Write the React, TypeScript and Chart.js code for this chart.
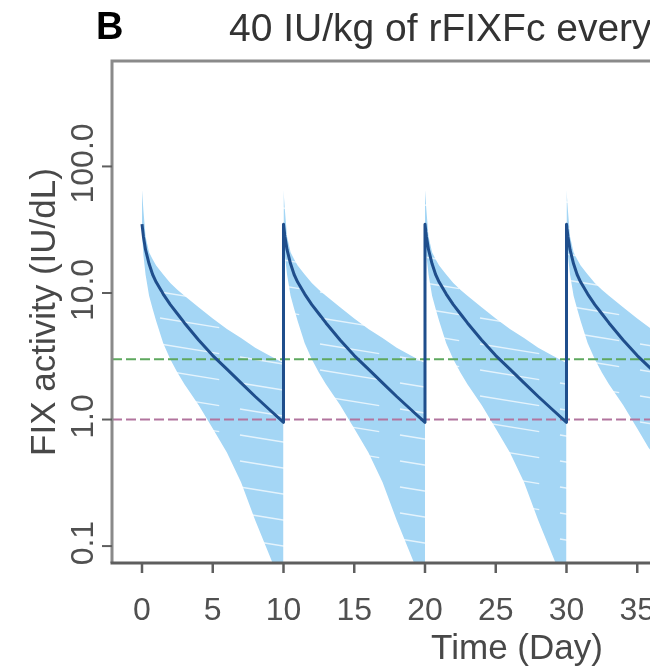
import React, { useEffect, useRef } from "react";
import { Chart, registerables } from "chart.js";

Chart.register(...registerables);

// ---- data ----
const doseDays = [0, 10, 20, 30, 40];
const cycleDays = [0, 0.1, 0.25, 0.5, 0.75, 1, 1.5, 2, 2.5, 3, 4, 5, 6, 7, 8, 9, 10];
const medianFIX = [35, 28, 22, 17, 14, 12.2, 9.8, 8.1, 6.85, 5.8, 4.25, 3.2, 2.5, 1.95, 1.52, 1.2, 0.95];
const upperFIX = [65, 45, 28, 21, 18.5, 16.5, 14, 12, 10.6, 9.5, 7.7, 6.3, 5.2, 4.4, 3.7, 3.2, 2.8];
const lowerFIX = [30, 20, 14, 9.5, 7.5, 6, 4, 3, 2.35, 1.9, 1.3, 0.85, 0.55, 0.32, 0.16, 0.085, 0.045];

const thresholdValues = [1, 3];
const thresholdColors = ["#b2749e", "#5ea85e"];

const xTicks = [0, 5, 10, 15, 20, 25, 30, 35, 40, 45, 50];
const yTicks = [0.1, 1, 10, 100];
const yTickLabels = ["0.1", "1.0", "10.0", "100.0"];

const X_MIN = -2.12;
const X_MAX = 54.7;
const Y_MIN = 0.0735;
const Y_MAX = 681;

const panelLetter = "B";
const titleText = "40 IU/kg of rFIXFc every 10 days";
const xTitle = "Time (Day)";
const yTitle = "FIX activity (IU/dL)";

const FONT = "'Liberation Sans', Arial, Helvetica, sans-serif";

function makeBandPattern(ctx: CanvasRenderingContext2D) {
  const c = document.createElement("canvas");
  c.width = 160;
  c.height = 26;
  const g = c.getContext("2d")!;
  g.fillStyle = "#a4d6f5";
  g.fillRect(0, 0, 160, 26);
  g.strokeStyle = "rgba(255,255,255,0.7)";
  g.lineWidth = 1.5;
  g.setLineDash([60, 21]);
  for (const off of [-26, 0, 26]) {
    g.beginPath();
    g.moveTo(0, 6 + off);
    g.lineTo(160, 6 + off + 26);
    g.stroke();
  }
  return ctx.createPattern(c, "repeat");
}

const decorPlugin = {
  id: "decor",
  afterDraw(chart: any) {
    const { ctx, chartArea, scales } = chart;
    const { left, right, top, bottom } = chartArea;
    const xs = scales.x;
    const ys = scales.y;
    ctx.save();

    // box
    ctx.strokeStyle = "#8a8a8a";
    ctx.lineWidth = 3;
    ctx.beginPath();
    ctx.moveTo(right, top);
    ctx.lineTo(left, top);
    ctx.lineTo(left, bottom);
    ctx.stroke();
    ctx.strokeStyle = "#5e5e5e";
    ctx.beginPath();
    ctx.moveTo(left - 1.5, bottom);
    ctx.lineTo(right, bottom);
    ctx.stroke();

    // x ticks
    ctx.strokeStyle = "#5e5e5e";
    ctx.lineWidth = 2.5;
    ctx.fillStyle = "#505050";
    ctx.font = `32px ${FONT}`;
    ctx.textAlign = "center";
    ctx.textBaseline = "alphabetic";
    for (const t of xTicks) {
      const px = xs.getPixelForValue(t);
      ctx.beginPath();
      ctx.moveTo(px, bottom);
      ctx.lineTo(px, bottom + 10);
      ctx.stroke();
      ctx.fillText(String(t), px, bottom + 57);
    }

    // y ticks
    ctx.lineWidth = 2;
    yTicks.forEach((v, i) => {
      const py = ys.getPixelForValue(v);
      ctx.beginPath();
      ctx.moveTo(left, py);
      ctx.lineTo(left - 10, py);
      ctx.stroke();
      ctx.save();
      ctx.translate(93, py - 3);
      ctx.rotate(-Math.PI / 2);
      ctx.textAlign = "center";
      ctx.fillText(yTickLabels[i], 0, 0);
      ctx.restore();
    });

    // axis titles
    ctx.font = `35px ${FONT}`;
    ctx.fillStyle = "#484848";
    ctx.textAlign = "center";
    ctx.fillText(xTitle, (left + right) / 2 + 3, 659);
    ctx.save();
    ctx.translate(55, (top + bottom) / 2);
    ctx.rotate(-Math.PI / 2);
    ctx.fillText(yTitle, 0, 0);
    ctx.restore();

    // main title
    ctx.font = `39px ${FONT}`;
    ctx.fillStyle = "#333";
    ctx.fillText(titleText, (left + right) / 2, 41);

    // panel letter
    ctx.font = `bold 38px ${FONT}`;
    ctx.fillStyle = "#000";
    ctx.textAlign = "left";
    ctx.fillText(panelLetter, 96, 39);

    ctx.restore();
  },
};

export default function App() {
  const ref = useRef<HTMLCanvasElement | null>(null);

  useEffect(() => {
    const canvas = ref.current!;
    const ctx = canvas.getContext("2d")!;
    const pattern = makeBandPattern(ctx);

    const datasets: any[] = [];
    doseDays.forEach((d) => {
      datasets.push({
        data: cycleDays.map((t, i) => ({ x: d + t, y: lowerFIX[i] })),
        borderWidth: 0,
        pointRadius: 0,
        fill: false,
        order: 3,
      });
      datasets.push({
        data: cycleDays.map((t, i) => ({ x: d + t, y: upperFIX[i] })),
        borderWidth: 0,
        pointRadius: 0,
        fill: "-1",
        backgroundColor: pattern,
        order: 3,
      });
    });

    thresholdValues.forEach((v, i) => {
      datasets.push({
        data: [
          { x: X_MIN, y: v },
          { x: X_MAX, y: v },
        ],
        borderColor: thresholdColors[i],
        borderWidth: 2,
        borderDash: [10, 4],
        pointRadius: 0,
        fill: false,
        order: 2,
      });
    });

    const medianPts: { x: number; y: number }[] = [];
    doseDays.forEach((d) => {
      cycleDays.forEach((t, i) => medianPts.push({ x: d + t, y: medianFIX[i] }));
    });
    datasets.push({
      data: medianPts,
      borderColor: "#1f4e8c",
      borderWidth: 3,
      borderJoinStyle: "round",
      pointRadius: 0,
      fill: false,
      tension: 0,
      order: 1,
    });

    const chart = new Chart(canvas, {
      type: "line",
      data: { datasets },
      options: {
        animation: false,
        responsive: false,
        devicePixelRatio: 1,
        layout: { padding: { left: 112, top: 61, right: 84, bottom: 104 } },
        plugins: {
          legend: { display: false },
          tooltip: { enabled: false },
          title: { display: false },
        },
        scales: {
          x: { type: "linear", min: X_MIN, max: X_MAX, display: false },
          y: { type: "logarithmic", min: Y_MIN, max: Y_MAX, display: false },
        },
      },
      plugins: [decorPlugin],
    } as any);

    return () => chart.destroy();
  }, []);

  return (
    <div
      style={{
        position: "fixed",
        left: 0,
        top: 0,
        width: 650,
        height: 667,
        overflow: "hidden",
        background: "#fff",
      }}
    >
      <canvas
        ref={ref}
        width={1000}
        height={667}
        style={{ width: 1000, height: 667, display: "block" }}
      />
    </div>
  );
}
